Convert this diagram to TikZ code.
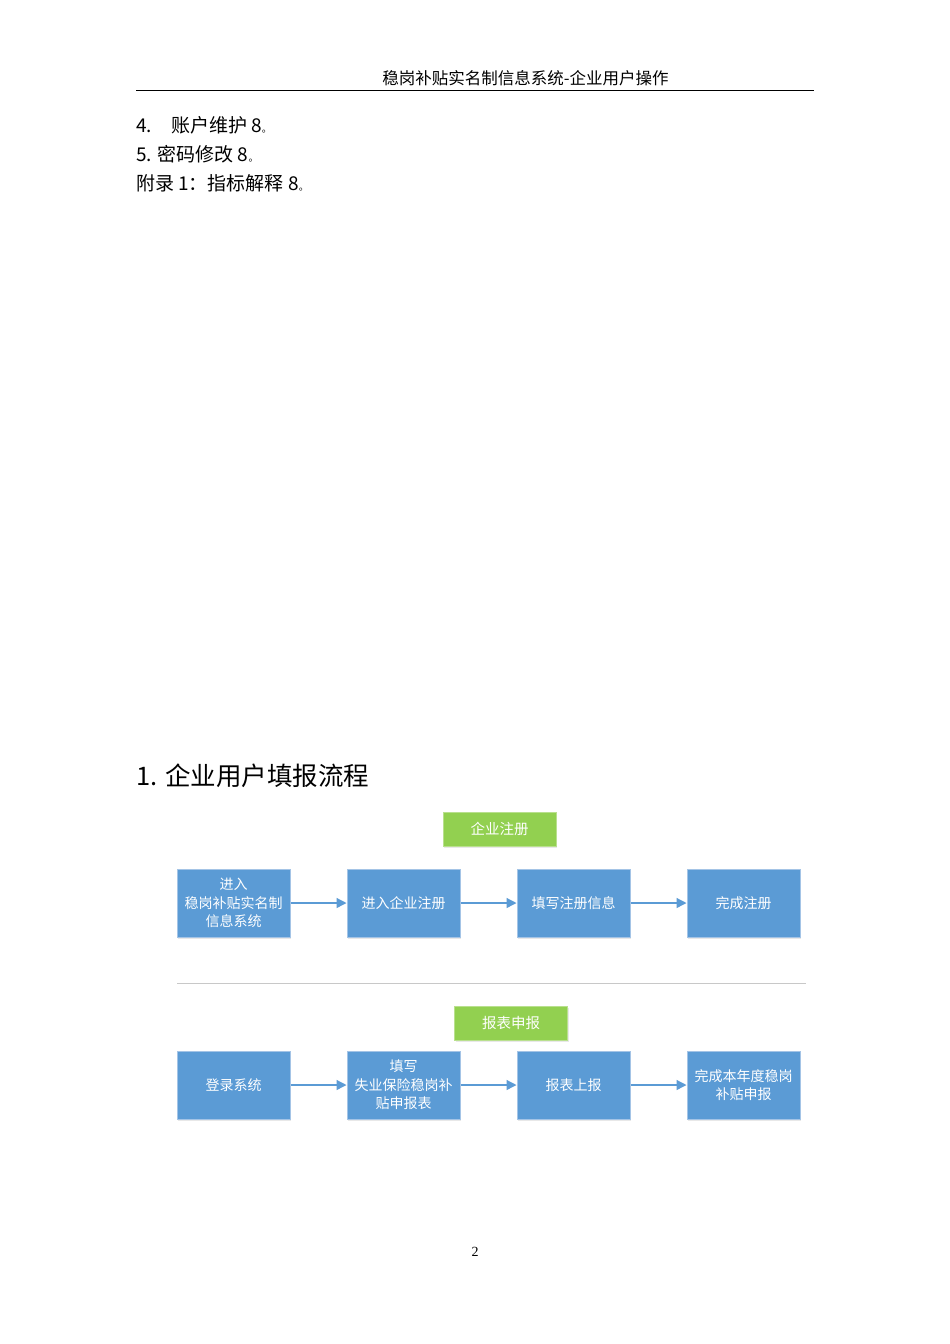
\documentclass[tikz,border=0pt]{standalone}
\usepackage{fontspec}
\setmainfont{Liberation Sans}
\newfontfamily\cjk{Noto Sans CJK SC}
\newfontfamily\serifnum{Liberation Serif}
\usetikzlibrary{arrows.meta,shadows}
\definecolor{boxblue}{HTML}{5B9BD5}
\definecolor{boxedge}{HTML}{A4C4E6}
\definecolor{boxgreen}{HTML}{92D050}
\definecolor{greenedge}{HTML}{B9E08E}
\definecolor{sepgrey}{HTML}{C8C8C8}
\tikzset{
  bluebox/.style={rectangle, fill=boxblue, draw=boxedge, line width=1pt,
    minimum width=113pt, minimum height=68pt, inner sep=0pt,
    text=white, align=center, font=\cjk\fontsize{14}{18.5}\selectfont,
    drop shadow={opacity=0.18, shadow xshift=1pt, shadow yshift=-2pt}},
  greenbox/.style={rectangle, fill=boxgreen, draw=greenedge, line width=1pt,
    minimum width=113pt, minimum height=34pt, inner sep=0pt,
    text=white, font=\cjk\fontsize{14.5}{16}\selectfont,
    drop shadow={opacity=0.18, shadow xshift=1pt, shadow yshift=-2pt}},
  flow/.style={draw=boxblue, line width=1.3pt, -{Triangle[length=10pt,width=10pt]}},
  bodytext/.style={anchor=west, inner sep=0pt, font=\cjk\fontsize{19}{21}\selectfont}
}
\begin{document}
\begin{tikzpicture}[x=1pt,y=-1pt]
\useasboundingbox[fill=white] (0,0) rectangle (950,1344);
% header
\node[inner sep=0pt, font=\cjk\fontsize{16.5}{18}\selectfont] (hdr) at (525.5,78) {稳岗补贴实名制信息系统-企业用户操作};
\coordinate (hl) at (136,90.5);
\coordinate (hr) at (814,90.5);
\draw[line width=1.2pt] (hl) -- (hr);
% list
\node[bodytext] (l4) at (136,125) {4.\hspace{19pt}账户维护 8{\fontsize{10}{10}\selectfont 。}};
\node[bodytext] (l5) at (136,154) {5. 密码修改 8{\fontsize{10}{10}\selectfont 。}};
\node[bodytext] (l6) at (136,183) {附录 1：指标解释 8{\fontsize{10}{10}\selectfont 。}};
% section title
\node[anchor=west, inner sep=0pt, font=\cjk\fontsize{25.5}{27}\selectfont] (title) at (136,776) {1. 企业用户填报流程};
% row 1
\node[greenbox] (g1) at (499.5,829) {企业注册};
\node[bluebox] (a1) at (233.5,903) {进入\\稳岗补贴实名制\\信息系统};
\node[bluebox] (a2) at (403.5,903) {进入企业注册};
\node[bluebox] (a3) at (573.5,903) {填写注册信息};
\node[bluebox] (a4) at (743.5,903) {完成注册};
\draw[flow] (a1) -- (a2);
\draw[flow] (a2) -- (a3);
\draw[flow] (a3) -- (a4);
% separator
\coordinate (sl) at (177,983);
\coordinate (sr) at (806,983);
\draw[sepgrey, line width=1pt] (sl) -- (sr);
% row 2
\node[greenbox] (g2) at (511,1023) {报表申报};
\node[bluebox] (b1) at (233.5,1085) {登录系统};
\node[bluebox] (b2) at (403.5,1085) {填写\\失业保险稳岗补\\贴申报表};
\node[bluebox] (b3) at (573.5,1085) {报表上报};
\node[bluebox] (b4) at (743.5,1085) {完成本年度稳岗\\补贴申报};
\draw[flow] (b1) -- (b2);
\draw[flow] (b2) -- (b3);
\draw[flow] (b3) -- (b4);
% page number
\node[inner sep=0pt, font=\serifnum\fontsize{14}{16}\selectfont] (pg) at (475,1252) {2};
\end{tikzpicture}
\end{document}
